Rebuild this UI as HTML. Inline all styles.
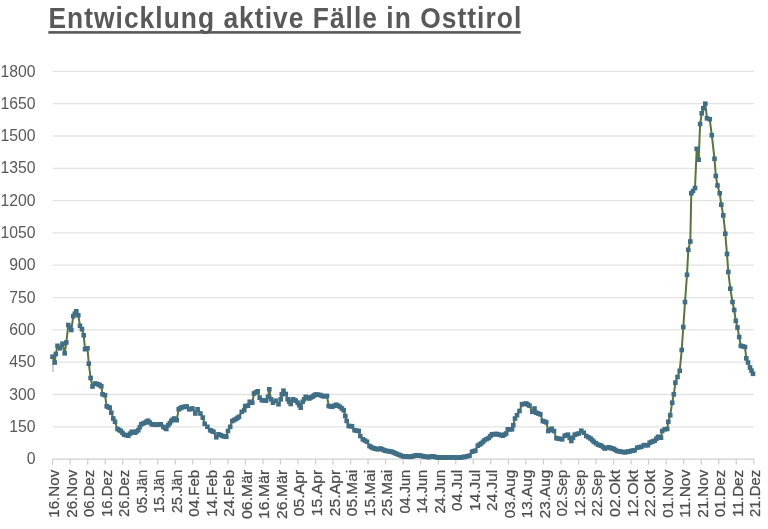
<!DOCTYPE html>
<html lang="de"><head><meta charset="utf-8"><title>Entwicklung aktive Fälle in Osttirol</title>
<style>
html,body{margin:0;padding:0;background:#fff;}
body{width:768px;height:529px;overflow:hidden;}
svg{display:block;}
.t{font-family:"Liberation Sans",sans-serif;font-weight:bold;font-size:29.3px;letter-spacing:1.155px;fill:#595959;}
.y{font-family:"Liberation Sans",sans-serif;font-size:15.9px;fill:#595959;}
.x{font-family:"Liberation Sans",sans-serif;font-size:15.5px;fill:#4d4d4d;stroke:#4d4d4d;stroke-width:0.25px;}
</style></head><body>
<svg width="768" height="529" viewBox="0 0 768 529">
<rect width="768" height="529" fill="#ffffff"/>
<text class="t" transform="translate(48.4,28.3) scale(0.9,1)">Entwicklung aktive Fälle in Osttirol</text>
<rect x="48.3" y="31.1" width="472.4" height="2.6" fill="#595959"/>
<g stroke="#e3e3e3" stroke-width="1.3" fill="none">
<line x1="52.6" y1="426.8" x2="753.8" y2="426.8"/>
<line x1="52.6" y1="394.5" x2="753.8" y2="394.5"/>
<line x1="52.6" y1="362.2" x2="753.8" y2="362.2"/>
<line x1="52.6" y1="329.9" x2="753.8" y2="329.9"/>
<line x1="52.6" y1="297.6" x2="753.8" y2="297.6"/>
<line x1="52.6" y1="265.2" x2="753.8" y2="265.2"/>
<line x1="52.6" y1="232.9" x2="753.8" y2="232.9"/>
<line x1="52.6" y1="200.6" x2="753.8" y2="200.6"/>
<line x1="52.6" y1="168.3" x2="753.8" y2="168.3"/>
<line x1="52.6" y1="136.0" x2="753.8" y2="136.0"/>
<line x1="52.6" y1="103.7" x2="753.8" y2="103.7"/>
<line x1="52.6" y1="71.4" x2="753.8" y2="71.4"/>
</g>
<g stroke="#d0d0d0" stroke-width="1.3" fill="none"><line x1="52.6" y1="459.1" x2="753.8" y2="459.1"/>
<line x1="52.6" y1="459.1" x2="52.6" y2="464.6"/>
<line x1="70.1" y1="459.1" x2="70.1" y2="464.6"/>
<line x1="87.7" y1="459.1" x2="87.7" y2="464.6"/>
<line x1="105.2" y1="459.1" x2="105.2" y2="464.6"/>
<line x1="122.7" y1="459.1" x2="122.7" y2="464.6"/>
<line x1="140.2" y1="459.1" x2="140.2" y2="464.6"/>
<line x1="157.8" y1="459.1" x2="157.8" y2="464.6"/>
<line x1="175.3" y1="459.1" x2="175.3" y2="464.6"/>
<line x1="192.8" y1="459.1" x2="192.8" y2="464.6"/>
<line x1="210.4" y1="459.1" x2="210.4" y2="464.6"/>
<line x1="227.9" y1="459.1" x2="227.9" y2="464.6"/>
<line x1="245.4" y1="459.1" x2="245.4" y2="464.6"/>
<line x1="263.0" y1="459.1" x2="263.0" y2="464.6"/>
<line x1="280.5" y1="459.1" x2="280.5" y2="464.6"/>
<line x1="298.0" y1="459.1" x2="298.0" y2="464.6"/>
<line x1="315.6" y1="459.1" x2="315.6" y2="464.6"/>
<line x1="333.1" y1="459.1" x2="333.1" y2="464.6"/>
<line x1="350.6" y1="459.1" x2="350.6" y2="464.6"/>
<line x1="368.1" y1="459.1" x2="368.1" y2="464.6"/>
<line x1="385.7" y1="459.1" x2="385.7" y2="464.6"/>
<line x1="403.2" y1="459.1" x2="403.2" y2="464.6"/>
<line x1="420.7" y1="459.1" x2="420.7" y2="464.6"/>
<line x1="438.3" y1="459.1" x2="438.3" y2="464.6"/>
<line x1="455.8" y1="459.1" x2="455.8" y2="464.6"/>
<line x1="473.3" y1="459.1" x2="473.3" y2="464.6"/>
<line x1="490.8" y1="459.1" x2="490.8" y2="464.6"/>
<line x1="508.4" y1="459.1" x2="508.4" y2="464.6"/>
<line x1="525.9" y1="459.1" x2="525.9" y2="464.6"/>
<line x1="543.4" y1="459.1" x2="543.4" y2="464.6"/>
<line x1="561.0" y1="459.1" x2="561.0" y2="464.6"/>
<line x1="578.5" y1="459.1" x2="578.5" y2="464.6"/>
<line x1="596.0" y1="459.1" x2="596.0" y2="464.6"/>
<line x1="613.6" y1="459.1" x2="613.6" y2="464.6"/>
<line x1="631.1" y1="459.1" x2="631.1" y2="464.6"/>
<line x1="648.6" y1="459.1" x2="648.6" y2="464.6"/>
<line x1="666.1" y1="459.1" x2="666.1" y2="464.6"/>
<line x1="683.7" y1="459.1" x2="683.7" y2="464.6"/>
<line x1="701.2" y1="459.1" x2="701.2" y2="464.6"/>
<line x1="718.7" y1="459.1" x2="718.7" y2="464.6"/>
<line x1="736.3" y1="459.1" x2="736.3" y2="464.6"/>
<line x1="753.8" y1="459.1" x2="753.8" y2="464.6"/>
</g>
<g class="y">
<text x="26.8" y="464.2" textLength="8.8" lengthAdjust="spacingAndGlyphs">0</text>
<text x="9.3" y="431.9" textLength="26.3" lengthAdjust="spacingAndGlyphs">150</text>
<text x="9.3" y="399.6" textLength="26.3" lengthAdjust="spacingAndGlyphs">300</text>
<text x="9.3" y="367.3" textLength="26.3" lengthAdjust="spacingAndGlyphs">450</text>
<text x="9.3" y="335.0" textLength="26.3" lengthAdjust="spacingAndGlyphs">600</text>
<text x="9.3" y="302.7" textLength="26.3" lengthAdjust="spacingAndGlyphs">750</text>
<text x="9.3" y="270.3" textLength="26.3" lengthAdjust="spacingAndGlyphs">900</text>
<text x="0.6" y="238.0" textLength="35.0" lengthAdjust="spacingAndGlyphs">1050</text>
<text x="0.6" y="205.7" textLength="35.0" lengthAdjust="spacingAndGlyphs">1200</text>
<text x="0.6" y="173.4" textLength="35.0" lengthAdjust="spacingAndGlyphs">1350</text>
<text x="0.6" y="141.1" textLength="35.0" lengthAdjust="spacingAndGlyphs">1500</text>
<text x="0.6" y="108.8" textLength="35.0" lengthAdjust="spacingAndGlyphs">1650</text>
<text x="0.6" y="76.5" textLength="35.0" lengthAdjust="spacingAndGlyphs">1800</text>
</g>
<g class="x">
<text transform="translate(59.0,517.7) rotate(-90)" textLength="47.9" lengthAdjust="spacingAndGlyphs">16.Nov</text>
<text transform="translate(76.5,517.7) rotate(-90)" textLength="47.9" lengthAdjust="spacingAndGlyphs">26.Nov</text>
<text transform="translate(94.1,516.9) rotate(-90)" textLength="47.1" lengthAdjust="spacingAndGlyphs">06.Dez</text>
<text transform="translate(111.6,516.9) rotate(-90)" textLength="47.1" lengthAdjust="spacingAndGlyphs">16.Dez</text>
<text transform="translate(129.1,516.9) rotate(-90)" textLength="47.1" lengthAdjust="spacingAndGlyphs">26.Dez</text>
<text transform="translate(146.7,512.9) rotate(-90)" textLength="43.1" lengthAdjust="spacingAndGlyphs">05.Jän</text>
<text transform="translate(164.2,512.9) rotate(-90)" textLength="43.1" lengthAdjust="spacingAndGlyphs">15.Jän</text>
<text transform="translate(181.7,512.9) rotate(-90)" textLength="43.1" lengthAdjust="spacingAndGlyphs">25.Jän</text>
<text transform="translate(199.2,516.7) rotate(-90)" textLength="46.9" lengthAdjust="spacingAndGlyphs">04.Feb</text>
<text transform="translate(216.8,516.7) rotate(-90)" textLength="46.9" lengthAdjust="spacingAndGlyphs">14.Feb</text>
<text transform="translate(234.3,516.7) rotate(-90)" textLength="46.9" lengthAdjust="spacingAndGlyphs">24.Feb</text>
<text transform="translate(251.8,518.9) rotate(-90)" textLength="49.1" lengthAdjust="spacingAndGlyphs">06.Mär</text>
<text transform="translate(269.4,518.9) rotate(-90)" textLength="49.1" lengthAdjust="spacingAndGlyphs">16.Mär</text>
<text transform="translate(286.9,518.9) rotate(-90)" textLength="49.1" lengthAdjust="spacingAndGlyphs">26.Mär</text>
<text transform="translate(304.4,516.2) rotate(-90)" textLength="46.4" lengthAdjust="spacingAndGlyphs">05.Apr</text>
<text transform="translate(321.9,516.2) rotate(-90)" textLength="46.4" lengthAdjust="spacingAndGlyphs">15.Apr</text>
<text transform="translate(339.5,516.2) rotate(-90)" textLength="46.4" lengthAdjust="spacingAndGlyphs">25.Apr</text>
<text transform="translate(357.0,516.2) rotate(-90)" textLength="46.4" lengthAdjust="spacingAndGlyphs">05.Mai</text>
<text transform="translate(374.5,516.2) rotate(-90)" textLength="46.4" lengthAdjust="spacingAndGlyphs">15.Mai</text>
<text transform="translate(392.1,516.2) rotate(-90)" textLength="46.4" lengthAdjust="spacingAndGlyphs">25.Mai</text>
<text transform="translate(409.6,513.6) rotate(-90)" textLength="43.8" lengthAdjust="spacingAndGlyphs">04.Jun</text>
<text transform="translate(427.1,513.6) rotate(-90)" textLength="43.8" lengthAdjust="spacingAndGlyphs">14.Jun</text>
<text transform="translate(444.7,513.6) rotate(-90)" textLength="43.8" lengthAdjust="spacingAndGlyphs">24.Jun</text>
<text transform="translate(462.2,510.9) rotate(-90)" textLength="41.1" lengthAdjust="spacingAndGlyphs">04.Jul</text>
<text transform="translate(479.7,510.9) rotate(-90)" textLength="41.1" lengthAdjust="spacingAndGlyphs">14.Jul</text>
<text transform="translate(497.2,510.9) rotate(-90)" textLength="41.1" lengthAdjust="spacingAndGlyphs">24.Jul</text>
<text transform="translate(514.8,518.2) rotate(-90)" textLength="48.4" lengthAdjust="spacingAndGlyphs">03.Aug</text>
<text transform="translate(532.3,518.2) rotate(-90)" textLength="48.4" lengthAdjust="spacingAndGlyphs">13.Aug</text>
<text transform="translate(549.8,518.2) rotate(-90)" textLength="48.4" lengthAdjust="spacingAndGlyphs">23.Aug</text>
<text transform="translate(567.4,516.2) rotate(-90)" textLength="46.4" lengthAdjust="spacingAndGlyphs">02.Sep</text>
<text transform="translate(584.9,516.2) rotate(-90)" textLength="46.4" lengthAdjust="spacingAndGlyphs">12.Sep</text>
<text transform="translate(602.4,516.2) rotate(-90)" textLength="46.4" lengthAdjust="spacingAndGlyphs">22.Sep</text>
<text transform="translate(620.0,516.9) rotate(-90)" textLength="47.1" lengthAdjust="spacingAndGlyphs">02.Okt</text>
<text transform="translate(637.5,516.9) rotate(-90)" textLength="47.1" lengthAdjust="spacingAndGlyphs">12.Okt</text>
<text transform="translate(655.0,516.9) rotate(-90)" textLength="47.1" lengthAdjust="spacingAndGlyphs">22.Okt</text>
<text transform="translate(672.5,517.7) rotate(-90)" textLength="47.9" lengthAdjust="spacingAndGlyphs">01.Nov</text>
<text transform="translate(690.1,517.7) rotate(-90)" textLength="47.9" lengthAdjust="spacingAndGlyphs">11.Nov</text>
<text transform="translate(707.6,517.7) rotate(-90)" textLength="47.9" lengthAdjust="spacingAndGlyphs">21.Nov</text>
<text transform="translate(725.1,516.9) rotate(-90)" textLength="47.1" lengthAdjust="spacingAndGlyphs">01.Dez</text>
<text transform="translate(742.7,516.9) rotate(-90)" textLength="47.1" lengthAdjust="spacingAndGlyphs">11.Dez</text>
<text transform="translate(760.2,516.9) rotate(-90)" textLength="47.1" lengthAdjust="spacingAndGlyphs">21.Dez</text>
</g>
<line x1="53" y1="357" x2="53" y2="372" stroke="#9aa8a8" stroke-width="1"/>
<polyline points="52.5,356.7 54.7,362.5 55.8,354.0 57.5,345.8 60.0,348.3 62.5,343.7 64.7,353.3 66.3,342.5 68.3,325.0 71.3,330.0 73.3,316.2 76.3,311.3 78.3,315.3 80.0,325.8 82.0,329.2 83.7,335.3 85.0,349.2 87.5,348.3 88.8,363.7 90.6,378.0 92.5,386.5 95.0,383.5 98.3,384.3 101.3,386.3 102.5,394.3 105.0,395.2 106.7,406.3 109.7,407.7 111.3,412.7 113.3,418.5 115.0,421.8 117.5,429.0 120.8,431.0 124.2,434.7 128.3,435.7 131.7,431.8 135.0,432.7 138.3,430.2 141.3,424.3 145.0,422.7 148.0,420.7 151.7,424.3 156.7,424.8 160.8,424.3 163.3,426.8 166.3,429.0 168.3,425.2 171.3,421.0 174.2,418.5 176.7,420.2 178.7,409.3 181.7,407.3 186.7,406.5 189.2,409.3 192.5,408.5 195.3,413.5 197.6,409.3 200.4,413.5 202.8,417.6 204.7,423.8 207.4,426.8 210.2,430.2 213.5,431.8 216.3,437.3 218.5,434.3 222.7,436.0 226.3,436.8 228.0,431.0 230.2,426.8 232.3,421.0 236.0,419.0 239.0,416.8 241.8,411.8 244.3,410.2 245.2,406.0 248.0,405.7 249.7,401.8 252.3,402.7 254.0,393.5 257.7,391.3 259.7,397.7 261.8,400.2 266.0,400.7 268.0,396.8 269.3,389.3 271.0,399.3 273.0,402.7 275.7,400.7 278.5,404.3 280.7,399.3 281.8,394.3 283.5,390.7 285.7,394.0 287.7,399.3 290.7,404.0 292.7,399.3 295.7,400.7 297.7,402.7 300.7,407.7 302.7,401.8 305.7,396.8 309.3,398.5 312.7,396.5 315.6,394.5 319.8,394.9 323.2,396.3 327.0,396.0 328.7,406.0 332.3,406.8 336.2,404.7 340.0,406.8 343.7,410.2 345.3,416.0 346.7,421.0 348.7,426.0 352.0,426.3 354.5,430.2 358.7,431.0 360.3,436.0 362.8,439.3 367.0,441.8 369.5,446.0 372.8,448.0 377.8,449.3 380.3,448.5 385.3,450.7 392.0,451.8 397.0,454.0 402.8,456.3 410.3,456.8 417.0,455.2 422.0,456.0 428.7,457.2 432.0,456.3 438.7,457.6 448.7,457.3 458.7,457.7 465.3,456.8 469.5,455.7 472.0,451.8 475.3,450.7 477.8,445.7 481.2,443.5 484.5,440.2 488.7,438.0 492.0,434.3 497.0,434.0 502.8,435.7 506.2,433.5 507.8,429.3 512.0,429.3 513.3,425.2 515.0,418.5 517.0,415.2 519.5,411.0 522.0,404.3 526.2,403.5 529.5,405.7 532.3,411.8 534.5,408.5 536.2,412.7 540.3,414.3 542.8,421.0 546.2,422.3 548.3,431.0 551.6,428.7 554.0,431.0 556.4,438.2 562.2,439.3 564.7,435.7 568.0,434.7 571.3,441.0 574.7,434.7 578.8,433.5 581.3,430.7 583.8,432.7 586.3,436.0 590.5,438.5 593.8,441.8 598.0,444.7 601.3,445.7 604.7,448.5 608.8,447.3 613.8,449.0 617.2,451.0 624.7,452.3 629.7,451.3 634.7,450.2 637.2,447.7 641.3,446.8 643.8,445.2 648.0,445.2 649.7,442.7 654.7,440.7 658.0,436.8 661.0,437.7 662.2,431.0 664.7,429.3 667.2,429.0 668.3,421.8 670.2,415.2 672.2,402.7 673.8,394.3 675.4,382.6 677.5,377.0 679.7,370.8 681.7,350.0 683.3,327.0 685.0,302.0 687.0,274.8 688.3,249.8 690.3,241.5 691.3,193.3 693.0,191.0 695.0,188.0 696.7,148.8 698.7,159.7 700.1,124.0 701.7,113.3 703.3,108.3 705.3,103.7 707.0,118.3 709.7,119.2 711.8,135.2 714.5,158.8 715.8,176.0 717.5,185.5 719.7,193.3 721.3,204.7 723.3,215.4 725.3,233.7 727.0,254.0 728.3,272.0 730.3,288.7 732.5,302.0 734.2,310.0 735.8,320.8 737.5,327.5 739.2,337.0 740.8,345.8 745.0,347.0 746.3,358.3 748.0,362.5 750.0,367.5 753.0,373.8" fill="none" stroke="#56773a" stroke-width="2" stroke-linejoin="round"/>
<g fill="#3f6e85">
<rect x="50.2" y="354.4" width="4.6" height="4.6"/><rect x="52.4" y="360.2" width="4.6" height="4.6"/><rect x="53.5" y="351.7" width="4.6" height="4.6"/><rect x="55.2" y="343.5" width="4.6" height="4.6"/><rect x="57.7" y="346.0" width="4.6" height="4.6"/><rect x="60.2" y="341.4" width="4.6" height="4.6"/><rect x="62.4" y="351.0" width="4.6" height="4.6"/><rect x="64.0" y="340.2" width="4.6" height="4.6"/><rect x="66.0" y="322.7" width="4.6" height="4.6"/><rect x="67.5" y="325.2" width="4.6" height="4.6"/><rect x="69.0" y="327.7" width="4.6" height="4.6"/><rect x="71.0" y="313.9" width="4.6" height="4.6"/><rect x="72.5" y="311.4" width="4.6" height="4.6"/><rect x="74.0" y="309.0" width="4.6" height="4.6"/><rect x="76.0" y="313.0" width="4.6" height="4.6"/><rect x="77.7" y="323.5" width="4.6" height="4.6"/><rect x="79.7" y="326.9" width="4.6" height="4.6"/><rect x="81.4" y="333.0" width="4.6" height="4.6"/><rect x="82.7" y="346.9" width="4.6" height="4.6"/><rect x="85.2" y="346.0" width="4.6" height="4.6"/><rect x="86.5" y="361.4" width="4.6" height="4.6"/><rect x="88.3" y="375.7" width="4.6" height="4.6"/><rect x="90.2" y="384.2" width="4.6" height="4.6"/><rect x="92.7" y="381.2" width="4.6" height="4.6"/><rect x="94.4" y="381.6" width="4.6" height="4.6"/><rect x="96.0" y="382.0" width="4.6" height="4.6"/><rect x="97.5" y="383.0" width="4.6" height="4.6"/><rect x="99.0" y="384.0" width="4.6" height="4.6"/><rect x="100.2" y="392.0" width="4.6" height="4.6"/><rect x="102.7" y="392.9" width="4.6" height="4.6"/><rect x="104.4" y="404.0" width="4.6" height="4.6"/><rect x="105.9" y="404.7" width="4.6" height="4.6"/><rect x="107.4" y="405.4" width="4.6" height="4.6"/><rect x="109.0" y="410.4" width="4.6" height="4.6"/><rect x="111.0" y="416.2" width="4.6" height="4.6"/><rect x="112.7" y="419.5" width="4.6" height="4.6"/><rect x="115.2" y="426.7" width="4.6" height="4.6"/><rect x="116.9" y="427.7" width="4.6" height="4.6"/><rect x="118.5" y="428.7" width="4.6" height="4.6"/><rect x="120.2" y="430.6" width="4.6" height="4.6"/><rect x="121.9" y="432.4" width="4.6" height="4.6"/><rect x="124.0" y="432.9" width="4.6" height="4.6"/><rect x="126.0" y="433.4" width="4.6" height="4.6"/><rect x="127.7" y="431.4" width="4.6" height="4.6"/><rect x="129.4" y="429.5" width="4.6" height="4.6"/><rect x="131.0" y="429.9" width="4.6" height="4.6"/><rect x="132.7" y="430.4" width="4.6" height="4.6"/><rect x="134.3" y="429.1" width="4.6" height="4.6"/><rect x="136.0" y="427.9" width="4.6" height="4.6"/><rect x="137.5" y="424.9" width="4.6" height="4.6"/><rect x="139.0" y="422.0" width="4.6" height="4.6"/><rect x="140.8" y="421.2" width="4.6" height="4.6"/><rect x="142.7" y="420.4" width="4.6" height="4.6"/><rect x="144.2" y="419.4" width="4.6" height="4.6"/><rect x="145.7" y="418.4" width="4.6" height="4.6"/><rect x="147.5" y="420.2" width="4.6" height="4.6"/><rect x="149.4" y="422.0" width="4.6" height="4.6"/><rect x="151.1" y="422.2" width="4.6" height="4.6"/><rect x="152.7" y="422.3" width="4.6" height="4.6"/><rect x="154.4" y="422.5" width="4.6" height="4.6"/><rect x="156.4" y="422.2" width="4.6" height="4.6"/><rect x="158.5" y="422.0" width="4.6" height="4.6"/><rect x="161.0" y="424.5" width="4.6" height="4.6"/><rect x="162.5" y="425.6" width="4.6" height="4.6"/><rect x="164.0" y="426.7" width="4.6" height="4.6"/><rect x="166.0" y="422.9" width="4.6" height="4.6"/><rect x="167.5" y="420.8" width="4.6" height="4.6"/><rect x="169.0" y="418.7" width="4.6" height="4.6"/><rect x="170.4" y="417.4" width="4.6" height="4.6"/><rect x="171.9" y="416.2" width="4.6" height="4.6"/><rect x="174.4" y="417.9" width="4.6" height="4.6"/><rect x="176.4" y="407.0" width="4.6" height="4.6"/><rect x="177.9" y="406.0" width="4.6" height="4.6"/><rect x="179.4" y="405.0" width="4.6" height="4.6"/><rect x="181.1" y="404.7" width="4.6" height="4.6"/><rect x="182.7" y="404.5" width="4.6" height="4.6"/><rect x="184.4" y="404.2" width="4.6" height="4.6"/><rect x="186.9" y="407.0" width="4.6" height="4.6"/><rect x="188.5" y="406.6" width="4.6" height="4.6"/><rect x="190.2" y="406.2" width="4.6" height="4.6"/><rect x="193.0" y="411.2" width="4.6" height="4.6"/><rect x="195.3" y="407.0" width="4.6" height="4.6"/><rect x="198.1" y="411.2" width="4.6" height="4.6"/><rect x="200.5" y="415.3" width="4.6" height="4.6"/><rect x="202.4" y="421.5" width="4.6" height="4.6"/><rect x="205.1" y="424.5" width="4.6" height="4.6"/><rect x="207.9" y="427.9" width="4.6" height="4.6"/><rect x="209.5" y="428.7" width="4.6" height="4.6"/><rect x="211.2" y="429.5" width="4.6" height="4.6"/><rect x="214.0" y="435.0" width="4.6" height="4.6"/><rect x="216.2" y="432.0" width="4.6" height="4.6"/><rect x="218.3" y="432.8" width="4.6" height="4.6"/><rect x="220.4" y="433.7" width="4.6" height="4.6"/><rect x="222.2" y="434.1" width="4.6" height="4.6"/><rect x="224.0" y="434.5" width="4.6" height="4.6"/><rect x="225.7" y="428.7" width="4.6" height="4.6"/><rect x="227.9" y="424.5" width="4.6" height="4.6"/><rect x="230.0" y="418.7" width="4.6" height="4.6"/><rect x="231.8" y="417.7" width="4.6" height="4.6"/><rect x="233.7" y="416.7" width="4.6" height="4.6"/><rect x="235.2" y="415.6" width="4.6" height="4.6"/><rect x="236.7" y="414.5" width="4.6" height="4.6"/><rect x="239.5" y="409.5" width="4.6" height="4.6"/><rect x="242.0" y="407.9" width="4.6" height="4.6"/><rect x="242.9" y="403.7" width="4.6" height="4.6"/><rect x="245.7" y="403.4" width="4.6" height="4.6"/><rect x="247.4" y="399.5" width="4.6" height="4.6"/><rect x="250.0" y="400.4" width="4.6" height="4.6"/><rect x="251.7" y="391.2" width="4.6" height="4.6"/><rect x="253.5" y="390.1" width="4.6" height="4.6"/><rect x="255.4" y="389.0" width="4.6" height="4.6"/><rect x="257.4" y="395.4" width="4.6" height="4.6"/><rect x="259.5" y="397.9" width="4.6" height="4.6"/><rect x="261.6" y="398.1" width="4.6" height="4.6"/><rect x="263.7" y="398.4" width="4.6" height="4.6"/><rect x="265.7" y="394.5" width="4.6" height="4.6"/><rect x="267.0" y="387.0" width="4.6" height="4.6"/><rect x="268.7" y="397.0" width="4.6" height="4.6"/><rect x="270.7" y="400.4" width="4.6" height="4.6"/><rect x="273.4" y="398.4" width="4.6" height="4.6"/><rect x="276.2" y="402.0" width="4.6" height="4.6"/><rect x="278.4" y="397.0" width="4.6" height="4.6"/><rect x="279.5" y="392.0" width="4.6" height="4.6"/><rect x="281.2" y="388.4" width="4.6" height="4.6"/><rect x="283.4" y="391.7" width="4.6" height="4.6"/><rect x="285.4" y="397.0" width="4.6" height="4.6"/><rect x="286.9" y="399.3" width="4.6" height="4.6"/><rect x="288.4" y="401.7" width="4.6" height="4.6"/><rect x="290.4" y="397.0" width="4.6" height="4.6"/><rect x="291.9" y="397.7" width="4.6" height="4.6"/><rect x="293.4" y="398.4" width="4.6" height="4.6"/><rect x="295.4" y="400.4" width="4.6" height="4.6"/><rect x="296.9" y="402.9" width="4.6" height="4.6"/><rect x="298.4" y="405.4" width="4.6" height="4.6"/><rect x="300.4" y="399.5" width="4.6" height="4.6"/><rect x="301.9" y="397.0" width="4.6" height="4.6"/><rect x="303.4" y="394.5" width="4.6" height="4.6"/><rect x="305.2" y="395.3" width="4.6" height="4.6"/><rect x="307.0" y="396.2" width="4.6" height="4.6"/><rect x="308.7" y="395.2" width="4.6" height="4.6"/><rect x="310.4" y="394.2" width="4.6" height="4.6"/><rect x="311.8" y="393.2" width="4.6" height="4.6"/><rect x="313.3" y="392.2" width="4.6" height="4.6"/><rect x="315.4" y="392.4" width="4.6" height="4.6"/><rect x="317.5" y="392.6" width="4.6" height="4.6"/><rect x="319.2" y="393.3" width="4.6" height="4.6"/><rect x="320.9" y="394.0" width="4.6" height="4.6"/><rect x="322.8" y="393.8" width="4.6" height="4.6"/><rect x="324.7" y="393.7" width="4.6" height="4.6"/><rect x="326.4" y="403.7" width="4.6" height="4.6"/><rect x="328.2" y="404.1" width="4.6" height="4.6"/><rect x="330.0" y="404.5" width="4.6" height="4.6"/><rect x="331.9" y="403.4" width="4.6" height="4.6"/><rect x="333.9" y="402.4" width="4.6" height="4.6"/><rect x="335.8" y="403.4" width="4.6" height="4.6"/><rect x="337.7" y="404.5" width="4.6" height="4.6"/><rect x="339.6" y="406.2" width="4.6" height="4.6"/><rect x="341.4" y="407.9" width="4.6" height="4.6"/><rect x="343.0" y="413.7" width="4.6" height="4.6"/><rect x="344.4" y="418.7" width="4.6" height="4.6"/><rect x="346.4" y="423.7" width="4.6" height="4.6"/><rect x="348.1" y="423.8" width="4.6" height="4.6"/><rect x="349.7" y="424.0" width="4.6" height="4.6"/><rect x="352.2" y="427.9" width="4.6" height="4.6"/><rect x="354.3" y="428.3" width="4.6" height="4.6"/><rect x="356.4" y="428.7" width="4.6" height="4.6"/><rect x="358.0" y="433.7" width="4.6" height="4.6"/><rect x="360.5" y="437.0" width="4.6" height="4.6"/><rect x="362.6" y="438.2" width="4.6" height="4.6"/><rect x="364.7" y="439.5" width="4.6" height="4.6"/><rect x="367.2" y="443.7" width="4.6" height="4.6"/><rect x="368.8" y="444.7" width="4.6" height="4.6"/><rect x="370.5" y="445.7" width="4.6" height="4.6"/><rect x="372.2" y="446.1" width="4.6" height="4.6"/><rect x="373.8" y="446.6" width="4.6" height="4.6"/><rect x="375.5" y="447.0" width="4.6" height="4.6"/><rect x="378.0" y="446.2" width="4.6" height="4.6"/><rect x="379.7" y="446.9" width="4.6" height="4.6"/><rect x="381.3" y="447.7" width="4.6" height="4.6"/><rect x="383.0" y="448.4" width="4.6" height="4.6"/><rect x="384.7" y="448.7" width="4.6" height="4.6"/><rect x="386.3" y="448.9" width="4.6" height="4.6"/><rect x="388.0" y="449.2" width="4.6" height="4.6"/><rect x="389.7" y="449.5" width="4.6" height="4.6"/><rect x="391.4" y="450.2" width="4.6" height="4.6"/><rect x="393.0" y="451.0" width="4.6" height="4.6"/><rect x="394.7" y="451.7" width="4.6" height="4.6"/><rect x="396.6" y="452.5" width="4.6" height="4.6"/><rect x="398.6" y="453.2" width="4.6" height="4.6"/><rect x="400.5" y="454.0" width="4.6" height="4.6"/><rect x="402.4" y="454.1" width="4.6" height="4.6"/><rect x="404.2" y="454.2" width="4.6" height="4.6"/><rect x="406.1" y="454.4" width="4.6" height="4.6"/><rect x="408.0" y="454.5" width="4.6" height="4.6"/><rect x="409.7" y="454.1" width="4.6" height="4.6"/><rect x="411.3" y="453.7" width="4.6" height="4.6"/><rect x="413.0" y="453.3" width="4.6" height="4.6"/><rect x="414.7" y="452.9" width="4.6" height="4.6"/><rect x="416.4" y="453.2" width="4.6" height="4.6"/><rect x="418.0" y="453.4" width="4.6" height="4.6"/><rect x="419.7" y="453.7" width="4.6" height="4.6"/><rect x="421.4" y="454.0" width="4.6" height="4.6"/><rect x="423.1" y="454.3" width="4.6" height="4.6"/><rect x="424.7" y="454.6" width="4.6" height="4.6"/><rect x="426.4" y="454.9" width="4.6" height="4.6"/><rect x="428.1" y="454.4" width="4.6" height="4.6"/><rect x="429.7" y="454.0" width="4.6" height="4.6"/><rect x="431.4" y="454.3" width="4.6" height="4.6"/><rect x="433.1" y="454.7" width="4.6" height="4.6"/><rect x="434.7" y="455.0" width="4.6" height="4.6"/><rect x="436.4" y="455.3" width="4.6" height="4.6"/><rect x="438.1" y="455.2" width="4.6" height="4.6"/><rect x="439.7" y="455.2" width="4.6" height="4.6"/><rect x="441.4" y="455.2" width="4.6" height="4.6"/><rect x="443.1" y="455.1" width="4.6" height="4.6"/><rect x="444.7" y="455.1" width="4.6" height="4.6"/><rect x="446.4" y="455.0" width="4.6" height="4.6"/><rect x="448.1" y="455.1" width="4.6" height="4.6"/><rect x="449.7" y="455.1" width="4.6" height="4.6"/><rect x="451.4" y="455.2" width="4.6" height="4.6"/><rect x="453.1" y="455.3" width="4.6" height="4.6"/><rect x="454.7" y="455.3" width="4.6" height="4.6"/><rect x="456.4" y="455.4" width="4.6" height="4.6"/><rect x="458.1" y="455.2" width="4.6" height="4.6"/><rect x="459.7" y="454.9" width="4.6" height="4.6"/><rect x="461.3" y="454.7" width="4.6" height="4.6"/><rect x="463.0" y="454.5" width="4.6" height="4.6"/><rect x="465.1" y="453.9" width="4.6" height="4.6"/><rect x="467.2" y="453.4" width="4.6" height="4.6"/><rect x="469.7" y="449.5" width="4.6" height="4.6"/><rect x="471.3" y="448.9" width="4.6" height="4.6"/><rect x="473.0" y="448.4" width="4.6" height="4.6"/><rect x="475.5" y="443.4" width="4.6" height="4.6"/><rect x="477.2" y="442.3" width="4.6" height="4.6"/><rect x="478.9" y="441.2" width="4.6" height="4.6"/><rect x="480.6" y="439.6" width="4.6" height="4.6"/><rect x="482.2" y="437.9" width="4.6" height="4.6"/><rect x="484.3" y="436.8" width="4.6" height="4.6"/><rect x="486.4" y="435.7" width="4.6" height="4.6"/><rect x="488.1" y="433.8" width="4.6" height="4.6"/><rect x="489.7" y="432.0" width="4.6" height="4.6"/><rect x="491.4" y="431.9" width="4.6" height="4.6"/><rect x="493.0" y="431.8" width="4.6" height="4.6"/><rect x="494.7" y="431.7" width="4.6" height="4.6"/><rect x="496.6" y="432.3" width="4.6" height="4.6"/><rect x="498.6" y="432.8" width="4.6" height="4.6"/><rect x="500.5" y="433.4" width="4.6" height="4.6"/><rect x="502.2" y="432.3" width="4.6" height="4.6"/><rect x="503.9" y="431.2" width="4.6" height="4.6"/><rect x="505.5" y="427.0" width="4.6" height="4.6"/><rect x="507.6" y="427.0" width="4.6" height="4.6"/><rect x="509.7" y="427.0" width="4.6" height="4.6"/><rect x="511.0" y="422.9" width="4.6" height="4.6"/><rect x="512.7" y="416.2" width="4.6" height="4.6"/><rect x="514.7" y="412.9" width="4.6" height="4.6"/><rect x="517.2" y="408.7" width="4.6" height="4.6"/><rect x="519.7" y="402.0" width="4.6" height="4.6"/><rect x="521.8" y="401.6" width="4.6" height="4.6"/><rect x="523.9" y="401.2" width="4.6" height="4.6"/><rect x="525.6" y="402.3" width="4.6" height="4.6"/><rect x="527.2" y="403.4" width="4.6" height="4.6"/><rect x="530.0" y="409.5" width="4.6" height="4.6"/><rect x="532.2" y="406.2" width="4.6" height="4.6"/><rect x="533.9" y="410.4" width="4.6" height="4.6"/><rect x="536.0" y="411.2" width="4.6" height="4.6"/><rect x="538.0" y="412.0" width="4.6" height="4.6"/><rect x="540.5" y="418.7" width="4.6" height="4.6"/><rect x="542.2" y="419.3" width="4.6" height="4.6"/><rect x="543.9" y="420.0" width="4.6" height="4.6"/><rect x="546.0" y="428.7" width="4.6" height="4.6"/><rect x="547.7" y="427.6" width="4.6" height="4.6"/><rect x="549.3" y="426.4" width="4.6" height="4.6"/><rect x="551.7" y="428.7" width="4.6" height="4.6"/><rect x="554.1" y="435.9" width="4.6" height="4.6"/><rect x="556.0" y="436.3" width="4.6" height="4.6"/><rect x="558.0" y="436.6" width="4.6" height="4.6"/><rect x="559.9" y="437.0" width="4.6" height="4.6"/><rect x="562.4" y="433.4" width="4.6" height="4.6"/><rect x="564.1" y="432.9" width="4.6" height="4.6"/><rect x="565.7" y="432.4" width="4.6" height="4.6"/><rect x="567.4" y="435.6" width="4.6" height="4.6"/><rect x="569.0" y="438.7" width="4.6" height="4.6"/><rect x="570.7" y="435.6" width="4.6" height="4.6"/><rect x="572.4" y="432.4" width="4.6" height="4.6"/><rect x="574.5" y="431.8" width="4.6" height="4.6"/><rect x="576.5" y="431.2" width="4.6" height="4.6"/><rect x="579.0" y="428.4" width="4.6" height="4.6"/><rect x="581.5" y="430.4" width="4.6" height="4.6"/><rect x="584.0" y="433.7" width="4.6" height="4.6"/><rect x="586.1" y="434.9" width="4.6" height="4.6"/><rect x="588.2" y="436.2" width="4.6" height="4.6"/><rect x="589.9" y="437.8" width="4.6" height="4.6"/><rect x="591.5" y="439.5" width="4.6" height="4.6"/><rect x="593.6" y="440.9" width="4.6" height="4.6"/><rect x="595.7" y="442.4" width="4.6" height="4.6"/><rect x="597.4" y="442.9" width="4.6" height="4.6"/><rect x="599.0" y="443.4" width="4.6" height="4.6"/><rect x="600.7" y="444.8" width="4.6" height="4.6"/><rect x="602.4" y="446.2" width="4.6" height="4.6"/><rect x="604.5" y="445.6" width="4.6" height="4.6"/><rect x="606.5" y="445.0" width="4.6" height="4.6"/><rect x="608.2" y="445.6" width="4.6" height="4.6"/><rect x="609.8" y="446.1" width="4.6" height="4.6"/><rect x="611.5" y="446.7" width="4.6" height="4.6"/><rect x="613.2" y="447.7" width="4.6" height="4.6"/><rect x="614.9" y="448.7" width="4.6" height="4.6"/><rect x="616.8" y="449.0" width="4.6" height="4.6"/><rect x="618.7" y="449.3" width="4.6" height="4.6"/><rect x="620.5" y="449.7" width="4.6" height="4.6"/><rect x="622.4" y="450.0" width="4.6" height="4.6"/><rect x="624.1" y="449.7" width="4.6" height="4.6"/><rect x="625.7" y="449.3" width="4.6" height="4.6"/><rect x="627.4" y="449.0" width="4.6" height="4.6"/><rect x="629.1" y="448.6" width="4.6" height="4.6"/><rect x="630.7" y="448.3" width="4.6" height="4.6"/><rect x="632.4" y="447.9" width="4.6" height="4.6"/><rect x="634.9" y="445.4" width="4.6" height="4.6"/><rect x="637.0" y="444.9" width="4.6" height="4.6"/><rect x="639.0" y="444.5" width="4.6" height="4.6"/><rect x="641.5" y="442.9" width="4.6" height="4.6"/><rect x="643.6" y="442.9" width="4.6" height="4.6"/><rect x="645.7" y="442.9" width="4.6" height="4.6"/><rect x="647.4" y="440.4" width="4.6" height="4.6"/><rect x="649.1" y="439.7" width="4.6" height="4.6"/><rect x="650.7" y="439.1" width="4.6" height="4.6"/><rect x="652.4" y="438.4" width="4.6" height="4.6"/><rect x="654.1" y="436.4" width="4.6" height="4.6"/><rect x="655.7" y="434.5" width="4.6" height="4.6"/><rect x="657.2" y="434.9" width="4.6" height="4.6"/><rect x="658.7" y="435.4" width="4.6" height="4.6"/><rect x="659.9" y="428.7" width="4.6" height="4.6"/><rect x="662.4" y="427.0" width="4.6" height="4.6"/><rect x="664.9" y="426.7" width="4.6" height="4.6"/><rect x="666.0" y="419.5" width="4.6" height="4.6"/><rect x="667.9" y="412.9" width="4.6" height="4.6"/><rect x="669.9" y="400.4" width="4.6" height="4.6"/><rect x="671.5" y="392.0" width="4.6" height="4.6"/><rect x="673.1" y="380.3" width="4.6" height="4.6"/><rect x="675.2" y="374.7" width="4.6" height="4.6"/><rect x="677.4" y="368.5" width="4.6" height="4.6"/><rect x="679.4" y="347.7" width="4.6" height="4.6"/><rect x="681.0" y="324.7" width="4.6" height="4.6"/><rect x="682.7" y="299.7" width="4.6" height="4.6"/><rect x="684.7" y="272.5" width="4.6" height="4.6"/><rect x="686.0" y="247.5" width="4.6" height="4.6"/><rect x="688.0" y="239.2" width="4.6" height="4.6"/><rect x="689.0" y="191.0" width="4.6" height="4.6"/><rect x="690.7" y="188.7" width="4.6" height="4.6"/><rect x="692.7" y="185.7" width="4.6" height="4.6"/><rect x="694.4" y="146.5" width="4.6" height="4.6"/><rect x="696.4" y="157.4" width="4.6" height="4.6"/><rect x="697.8" y="121.7" width="4.6" height="4.6"/><rect x="699.4" y="111.0" width="4.6" height="4.6"/><rect x="701.0" y="106.0" width="4.6" height="4.6"/><rect x="703.0" y="101.4" width="4.6" height="4.6"/><rect x="704.7" y="116.0" width="4.6" height="4.6"/><rect x="707.4" y="116.9" width="4.6" height="4.6"/><rect x="709.5" y="132.9" width="4.6" height="4.6"/><rect x="712.2" y="156.5" width="4.6" height="4.6"/><rect x="713.5" y="173.7" width="4.6" height="4.6"/><rect x="715.2" y="183.2" width="4.6" height="4.6"/><rect x="717.4" y="191.0" width="4.6" height="4.6"/><rect x="719.0" y="202.4" width="4.6" height="4.6"/><rect x="721.0" y="213.1" width="4.6" height="4.6"/><rect x="723.0" y="231.4" width="4.6" height="4.6"/><rect x="724.7" y="251.7" width="4.6" height="4.6"/><rect x="726.0" y="269.7" width="4.6" height="4.6"/><rect x="728.0" y="286.4" width="4.6" height="4.6"/><rect x="730.2" y="299.7" width="4.6" height="4.6"/><rect x="731.9" y="307.7" width="4.6" height="4.6"/><rect x="733.5" y="318.5" width="4.6" height="4.6"/><rect x="735.2" y="325.2" width="4.6" height="4.6"/><rect x="736.9" y="334.7" width="4.6" height="4.6"/><rect x="738.5" y="343.5" width="4.6" height="4.6"/><rect x="740.6" y="344.1" width="4.6" height="4.6"/><rect x="742.7" y="344.7" width="4.6" height="4.6"/><rect x="744.0" y="356.0" width="4.6" height="4.6"/><rect x="745.7" y="360.2" width="4.6" height="4.6"/><rect x="747.7" y="365.2" width="4.6" height="4.6"/><rect x="749.2" y="368.3" width="4.6" height="4.6"/><rect x="750.7" y="371.5" width="4.6" height="4.6"/>
</g>
</svg>
</body></html>
